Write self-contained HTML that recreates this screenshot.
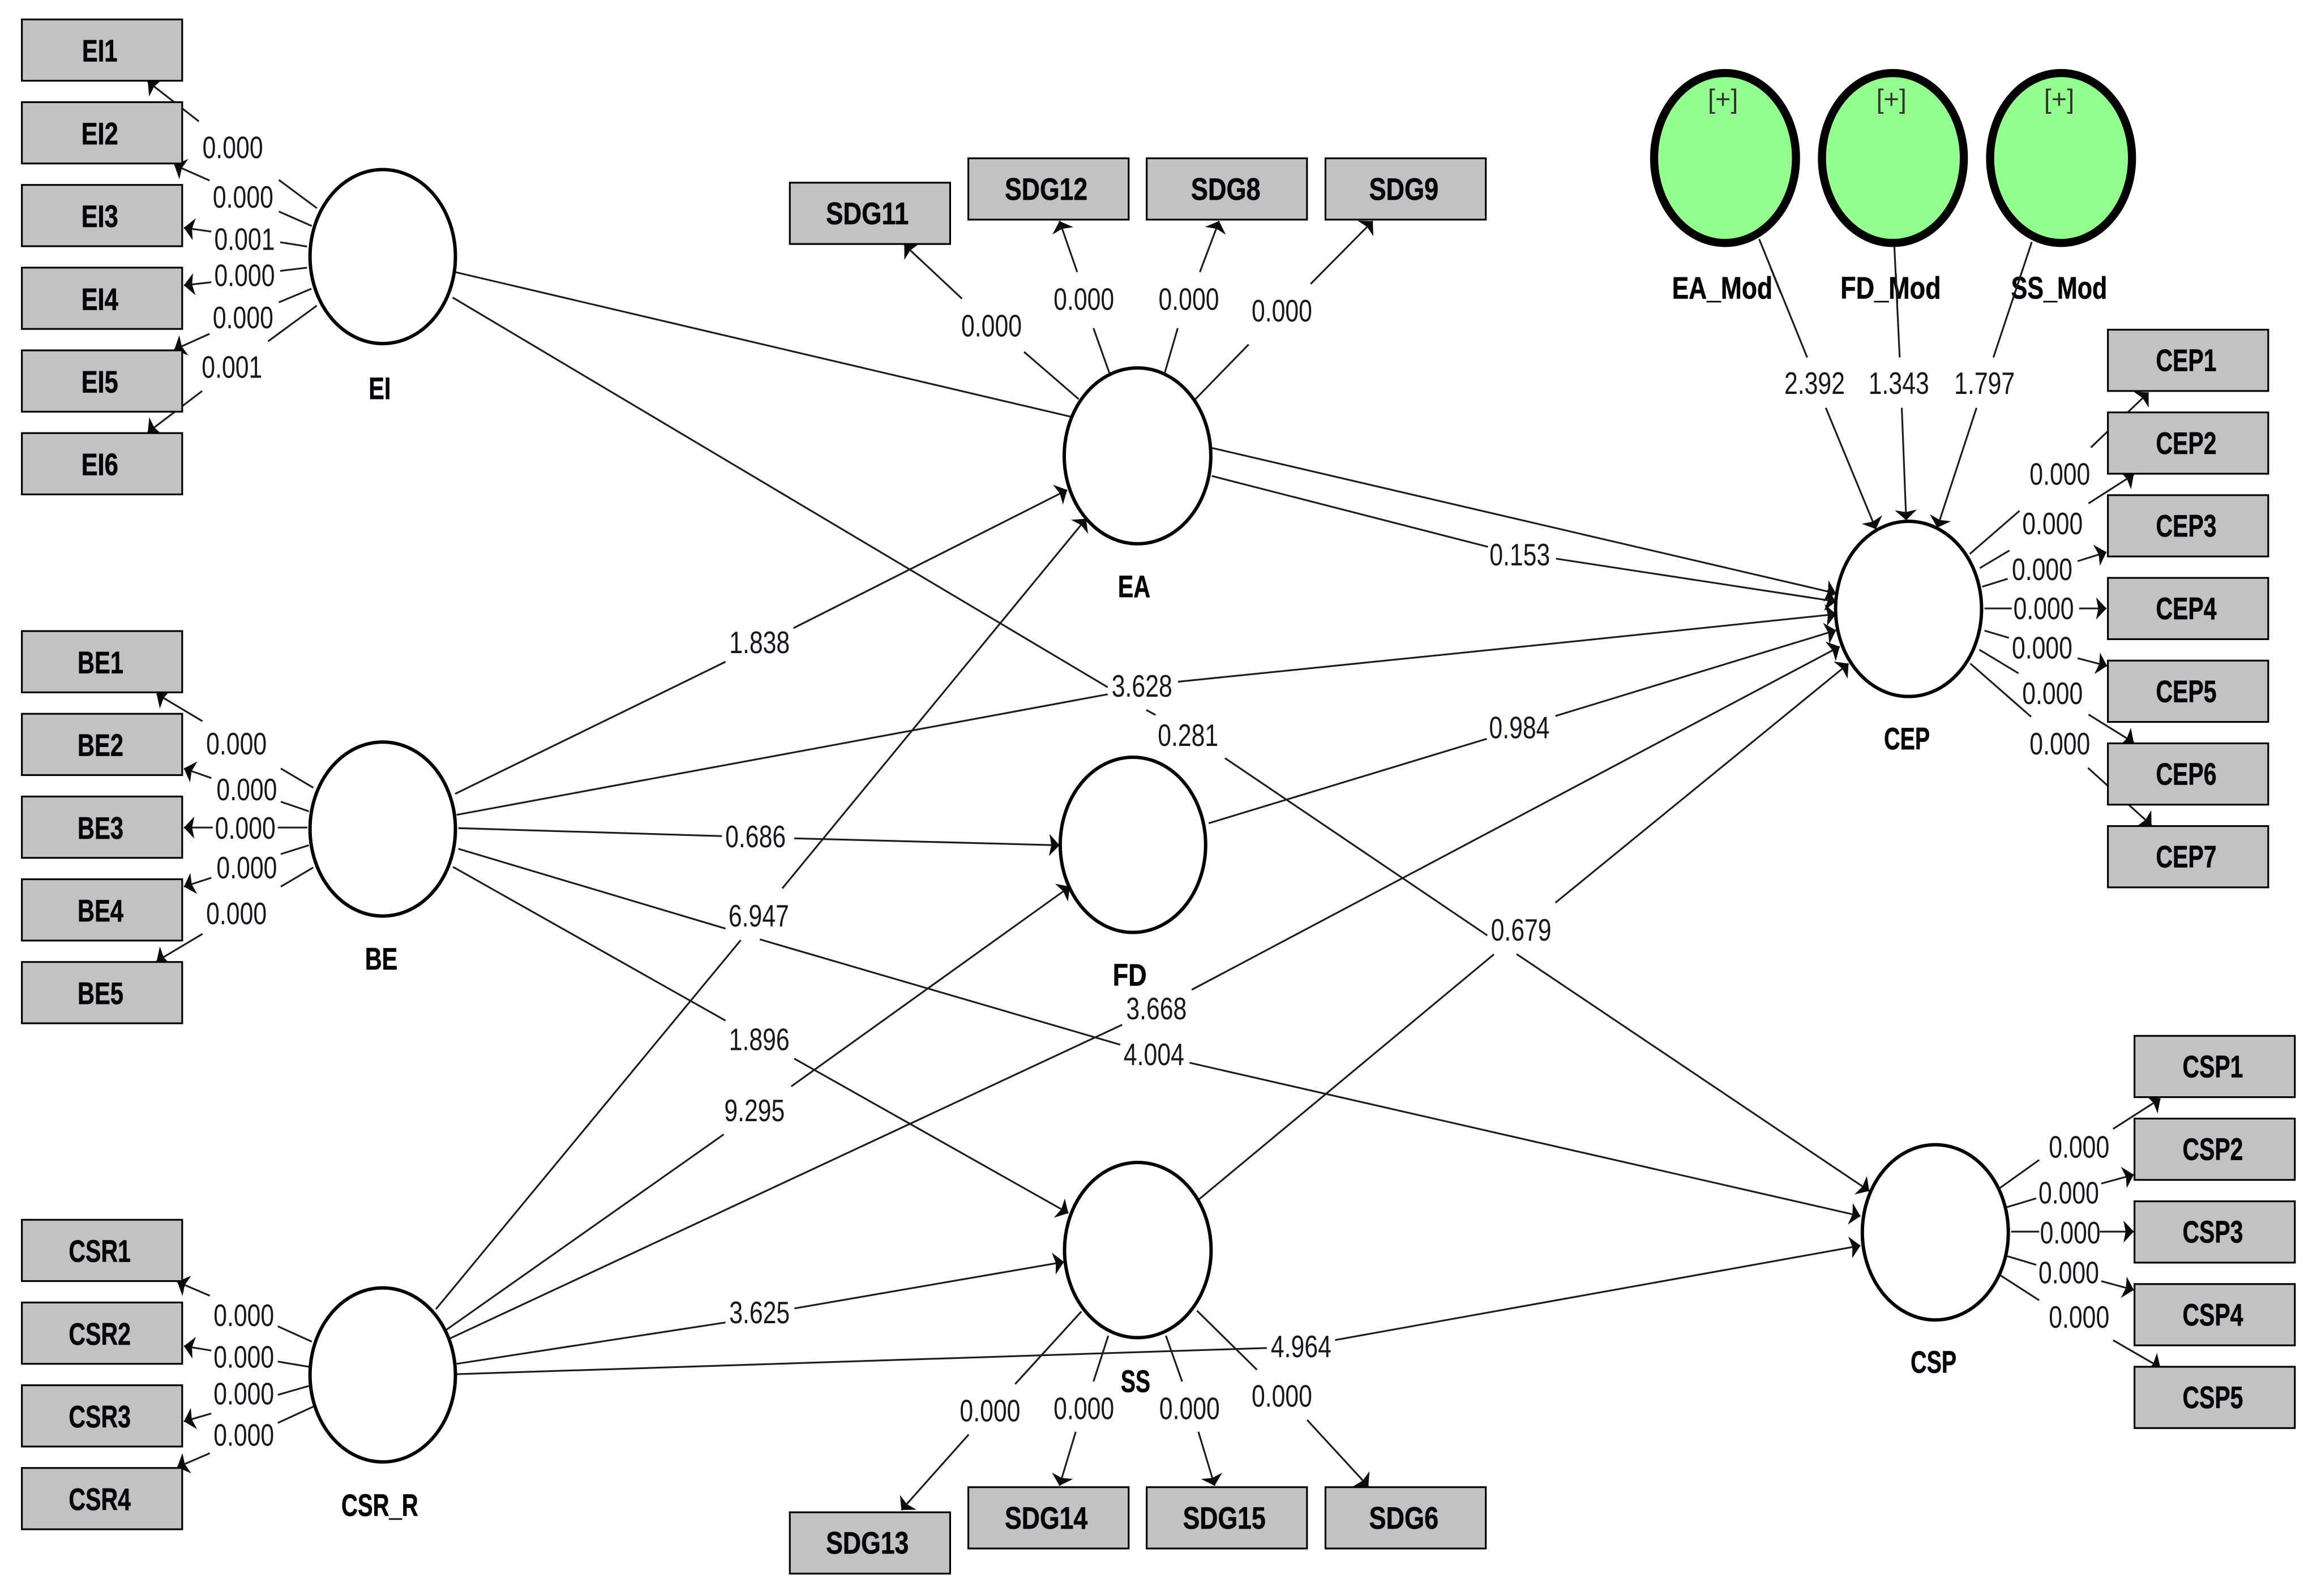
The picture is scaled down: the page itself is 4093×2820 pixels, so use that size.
<!DOCTYPE html>
<html><head><meta charset="utf-8"><style>
html,body{margin:0;padding:0;background:#fff}
svg{display:block}
.n{font:21px "Liberation Sans",sans-serif;fill:#16161e;text-anchor:middle}
.b{font:bold 21px "Liberation Sans",sans-serif;fill:#05050a;stroke:#05050a;stroke-width:.25;text-anchor:middle}
.p{font:18px "Liberation Sans",sans-serif;fill:#333;text-anchor:middle}
.l path{fill:none;stroke:#1c1c1c;stroke-width:1.2;marker-end:url(#a)}
.x path{fill:none;stroke:#1c1c1c;stroke-width:1.2}
.r rect{fill:#c2c2c2;stroke:#000;stroke-width:1.2}
.c ellipse{fill:#fff;stroke:#000;stroke-width:2.3}
.m ellipse{fill:#93ff8f;stroke:#000;stroke-width:5.5}
</style></head><body>
<svg xmlns="http://www.w3.org/2000/svg" width="4093" height="2820" viewBox="0 0 1568 1080">
<defs><marker id="a" markerUnits="userSpaceOnUse" markerWidth="10" markerHeight="18" viewBox="0 -9 10 18" refX="7" refY="0" orient="auto"><path d="M7 0L0 -7.5L1.5 0L0 7.5Z" fill="#0c0c0c"/></marker></defs>
<rect width="1568" height="1080" fill="#fff"/>

<g class="x"><path d="M308 184L725 282"/></g>
<g class="l">
<!-- EI indicators -->
<path d="M214.4 140.7L188.7 121.6M134.6 82L100 55"/>
<path d="M211 152.8L188.7 143M141.8 122L118 111.5"/>
<path d="M207.8 166.7L189.6 163.8M143 156.6L124.5 154"/>
<path d="M207.8 181L189.6 183.2M143 190.9L124.5 193"/>
<path d="M210.7 195.3L188.7 204.5M141.8 225.8L118 236.5"/>
<path d="M214.4 206.7L181.4 230.9M136.8 264.5L100 292.5"/>
<!-- BE indicators -->
<path d="M212 533L190 520M137 488L106 469.5"/>
<path d="M209 549L190 542.5M143 526.5L124.5 520"/>
<path d="M208 560L188 560M144 560L124.5 560"/>
<path d="M209 572L190 578M143 594L124.5 600"/>
<path d="M212 587L190 600M137 632L106 650.5"/>
<!-- CSR indicators -->
<path d="M211 908L188 897.6M142 876.9L120 867.5"/>
<path d="M209 925L188 921.5M143 914L124.5 911"/>
<path d="M209 938L188 944M143 956.6L124.5 962"/>
<path d="M212 952L188 963M142 983.5L120 993"/>
<!-- EA indicators -->
<path d="M730 270L693 238M651 202L612 165.5"/>
<path d="M751 253L740 222M729 184L717 149.5"/>
<path d="M788 253L797 222M812 184L825 149.5"/>
<path d="M809 270L845 233M887 192L929 149.5"/>
<!-- SS indicators -->
<path d="M731.8 887.6L687 936.7M655.6 970.8L610 1022"/>
<path d="M750 904L740 935M728 969L717 1005.5"/>
<path d="M789 904L800 935M811 969L822 1005.5"/>
<path d="M810 887L850.6 927M884.6 961L926 1006"/>
<!-- Moderators -->
<path d="M1190.5 161.7L1223 241.8M1235.6 275.9L1269.5 358"/>
<path d="M1282 167L1285.6 241.8M1287 275.9L1290 352"/>
<path d="M1375 163.6L1349 241.8M1337.6 275.9L1311 357"/>
<!-- CEP indicators -->
<path d="M1333 374.8L1366.7 345.6M1415 302.7L1454 265.5"/>
<path d="M1339.8 384.4L1359.8 372.5M1413.4 340.6L1444 321"/>
<path d="M1341.4 397L1358.7 391.6M1406 379.7L1425.5 373.6"/>
<path d="M1343 411.7L1361.4 411.7M1407 411.7L1425.5 411.7"/>
<path d="M1343 426.7L1359.5 431.6M1406 445.4L1426 450.6"/>
<path d="M1339.5 439.6L1366 455.6M1413.4 483.5L1444 502.5"/>
<path d="M1333.4 449L1374.5 485M1413 519.6L1456 558.5"/>
<!-- CSP indicators -->
<path d="M1352 805L1380 785M1430 764L1462 743.5"/>
<path d="M1358 817L1378 811M1422 801L1444 795"/>
<path d="M1361 833.5L1380 833.5M1421 833.5L1444 833.5"/>
<path d="M1358 850L1378 856M1422 867L1444 873"/>
<path d="M1352 862L1380 880M1430 907L1462 925.5"/>
<!-- Structural -->
<path d="M306.3 201.2L749.6 465M775.7 480.4L782 483.8M829 513L1006.5 633M1026.3 645.6L1265 806"/>
<path d="M308 537.2L491 447.8M537 425L722.2 331.5"/>
<path d="M309 551.4L749.6 469.8M797.2 461.3L1072.9 433.2L1242.5 415.5"/>
<path d="M310.2 560.4L488.6 565.8M537.5 567.3L717 572"/>
<path d="M310.2 574.4L491 628.4M514.2 635.7L758.1 707M805 719.2L1259 823"/>
<path d="M306.5 586.6L491 690.7M537.5 716.4L723 821"/>
<path d="M295 886L501.3 636.2M529.4 601.2L735 351"/>
<path d="M302 900L489.8 767.7M535.5 735.2L724 600"/>
<path d="M302 907L759.4 693.5M806.5 669.8L1245 437.5"/>
<path d="M309 923L491 895M537.6 885.5L720 854"/>
<path d="M309 930L857.3 912.3M903.5 906.9L1259 843"/>
<path d="M820 303L1242.5 401.5"/>
<path d="M820 322L1007 370M1053 378L1242.5 407"/>
<path d="M818 557.1L1006.2 499.9M1052.6 484.5L1242.5 426.5"/>
<path d="M811 812L1011 645.8M1052.6 610.9L1251 449"/>
</g>

<g class="c">
<ellipse cx="259" cy="173.5" rx="49.2" ry="58.9"/>
<ellipse cx="259" cy="561" rx="49.2" ry="58.9"/>
<ellipse cx="259" cy="930.5" rx="49.2" ry="58.9"/>
<ellipse cx="769.8" cy="308.4" rx="49.6" ry="59.5"/>
<ellipse cx="766.7" cy="571.7" rx="49.2" ry="59.3"/>
<ellipse cx="770" cy="846" rx="49.6" ry="59.3"/>
<ellipse cx="1291.6" cy="412" rx="49.4" ry="59.3"/>
<ellipse cx="1309.7" cy="834" rx="49.4" ry="59.3"/>
</g>
<g class="m">
<ellipse cx="1167.4" cy="106.8" rx="48" ry="57.5"/>
<ellipse cx="1281" cy="106.8" rx="48" ry="57.5"/>
<ellipse cx="1394.8" cy="106.8" rx="48" ry="57.5"/>
</g>

<g class="r">
<rect x="14.8" y="13" width="108.5" height="41.5"/>
<rect x="14.8" y="69" width="108.5" height="41.5"/>
<rect x="14.8" y="125" width="108.5" height="41.5"/>
<rect x="14.8" y="181" width="108.5" height="41.5"/>
<rect x="14.8" y="237" width="108.5" height="41.5"/>
<rect x="14.8" y="293" width="108.5" height="41.5"/>
<rect x="14.8" y="427" width="108.5" height="41.5"/>
<rect x="14.8" y="483" width="108.5" height="41.5"/>
<rect x="14.8" y="539" width="108.5" height="41.5"/>
<rect x="14.8" y="595" width="108.5" height="41.5"/>
<rect x="14.8" y="651" width="108.5" height="41.5"/>
<rect x="14.8" y="825.5" width="108.5" height="41.5"/>
<rect x="14.8" y="881.5" width="108.5" height="41.5"/>
<rect x="14.8" y="937.5" width="108.5" height="41.5"/>
<rect x="14.8" y="993.5" width="108.5" height="41.5"/>
<rect x="534.5" y="123.5" width="108.5" height="41.5"/>
<rect x="655.3" y="107" width="108.5" height="41.5"/>
<rect x="776" y="107" width="108.5" height="41.5"/>
<rect x="897" y="107" width="108.5" height="41.5"/>
<rect x="534.5" y="1023.5" width="108.5" height="41.5"/>
<rect x="655.3" y="1006.5" width="108.5" height="41.5"/>
<rect x="776" y="1006.5" width="108.5" height="41.5"/>
<rect x="897" y="1006.5" width="108.5" height="41.5"/>
<rect x="1426.5" y="223" width="108.5" height="41.5"/>
<rect x="1426.5" y="279" width="108.5" height="41.5"/>
<rect x="1426.5" y="335" width="108.5" height="41.5"/>
<rect x="1426.5" y="391" width="108.5" height="41.5"/>
<rect x="1426.5" y="447" width="108.5" height="41.5"/>
<rect x="1426.5" y="503" width="108.5" height="41.5"/>
<rect x="1426.5" y="559" width="108.5" height="41.5"/>
<rect x="1444.5" y="701" width="108.5" height="41.5"/>
<rect x="1444.5" y="757" width="108.5" height="41.5"/>
<rect x="1444.5" y="813" width="108.5" height="41.5"/>
<rect x="1444.5" y="869" width="108.5" height="41.5"/>
<rect x="1444.5" y="925" width="108.5" height="41.5"/>
</g>

<!-- Box labels -->
<g>
<text class="b" x="67.5" y="41.5" textLength="24" lengthAdjust="spacingAndGlyphs">EI1</text>
<text class="b" x="67.5" y="97.5" textLength="25" lengthAdjust="spacingAndGlyphs">EI2</text>
<text class="b" x="67.5" y="153.5" textLength="25" lengthAdjust="spacingAndGlyphs">EI3</text>
<text class="b" x="67.5" y="209.5" textLength="25" lengthAdjust="spacingAndGlyphs">EI4</text>
<text class="b" x="67.5" y="265.5" textLength="25" lengthAdjust="spacingAndGlyphs">EI5</text>
<text class="b" x="67.5" y="321.5" textLength="25" lengthAdjust="spacingAndGlyphs">EI6</text>
<text class="b" x="68" y="455.5" textLength="31" lengthAdjust="spacingAndGlyphs">BE1</text>
<text class="b" x="68" y="511.5" textLength="31" lengthAdjust="spacingAndGlyphs">BE2</text>
<text class="b" x="68" y="567.5" textLength="31" lengthAdjust="spacingAndGlyphs">BE3</text>
<text class="b" x="68" y="623.5" textLength="31" lengthAdjust="spacingAndGlyphs">BE4</text>
<text class="b" x="68" y="679.5" textLength="31" lengthAdjust="spacingAndGlyphs">BE5</text>
<text class="b" x="67.5" y="854" textLength="42" lengthAdjust="spacingAndGlyphs">CSR1</text>
<text class="b" x="67.5" y="910" textLength="42" lengthAdjust="spacingAndGlyphs">CSR2</text>
<text class="b" x="67.5" y="966" textLength="42" lengthAdjust="spacingAndGlyphs">CSR3</text>
<text class="b" x="67.5" y="1022" textLength="42" lengthAdjust="spacingAndGlyphs">CSR4</text>
<text class="b" x="587" y="151.5" textLength="56" lengthAdjust="spacingAndGlyphs">SDG11</text>
<text class="b" x="708" y="135" textLength="56" lengthAdjust="spacingAndGlyphs">SDG12</text>
<text class="b" x="829.5" y="135" textLength="47" lengthAdjust="spacingAndGlyphs">SDG8</text>
<text class="b" x="950" y="135" textLength="47" lengthAdjust="spacingAndGlyphs">SDG9</text>
<text class="b" x="587" y="1051.5" textLength="56" lengthAdjust="spacingAndGlyphs">SDG13</text>
<text class="b" x="708" y="1034.5" textLength="56" lengthAdjust="spacingAndGlyphs">SDG14</text>
<text class="b" x="828.5" y="1034.5" textLength="56" lengthAdjust="spacingAndGlyphs">SDG15</text>
<text class="b" x="950" y="1034.5" textLength="47" lengthAdjust="spacingAndGlyphs">SDG6</text>
<text class="b" x="1479.5" y="251" textLength="41" lengthAdjust="spacingAndGlyphs">CEP1</text>
<text class="b" x="1479.5" y="307" textLength="41" lengthAdjust="spacingAndGlyphs">CEP2</text>
<text class="b" x="1479.5" y="363" textLength="41" lengthAdjust="spacingAndGlyphs">CEP3</text>
<text class="b" x="1479.5" y="419" textLength="41" lengthAdjust="spacingAndGlyphs">CEP4</text>
<text class="b" x="1479.5" y="475" textLength="41" lengthAdjust="spacingAndGlyphs">CEP5</text>
<text class="b" x="1479.5" y="531" textLength="41" lengthAdjust="spacingAndGlyphs">CEP6</text>
<text class="b" x="1479.5" y="587" textLength="41" lengthAdjust="spacingAndGlyphs">CEP7</text>
<text class="b" x="1497.5" y="729" textLength="41" lengthAdjust="spacingAndGlyphs">CSP1</text>
<text class="b" x="1497.5" y="785" textLength="41" lengthAdjust="spacingAndGlyphs">CSP2</text>
<text class="b" x="1497.5" y="841" textLength="41" lengthAdjust="spacingAndGlyphs">CSP3</text>
<text class="b" x="1497.5" y="897" textLength="41" lengthAdjust="spacingAndGlyphs">CSP4</text>
<text class="b" x="1497.5" y="953" textLength="41" lengthAdjust="spacingAndGlyphs">CSP5</text>
</g>

<!-- Node labels -->
<g>
<text class="b" x="257" y="270" textLength="15" lengthAdjust="spacingAndGlyphs">EI</text>
<text class="b" x="258" y="656" textLength="22" lengthAdjust="spacingAndGlyphs">BE</text>
<text class="b" x="257" y="1026" textLength="52" lengthAdjust="spacingAndGlyphs">CSR_R</text>
<text class="b" x="767.5" y="404" textLength="22" lengthAdjust="spacingAndGlyphs">EA</text>
<text class="b" x="764.5" y="667" textLength="23" lengthAdjust="spacingAndGlyphs">FD</text>
<text class="b" x="768.5" y="942" textLength="20" lengthAdjust="spacingAndGlyphs">SS</text>
<text class="b" x="1290.5" y="507" textLength="31" lengthAdjust="spacingAndGlyphs">CEP</text>
<text class="b" x="1308.5" y="929" textLength="31" lengthAdjust="spacingAndGlyphs">CSP</text>
<text class="b" x="1165.5" y="202" textLength="68" lengthAdjust="spacingAndGlyphs">EA_Mod</text>
<text class="b" x="1279.5" y="202" textLength="68" lengthAdjust="spacingAndGlyphs">FD_Mod</text>
<text class="b" x="1393.5" y="202" textLength="65" lengthAdjust="spacingAndGlyphs">SS_Mod</text>
<text class="p" x="1166" y="73">[+]</text>
<text class="p" x="1280" y="73">[+]</text>
<text class="p" x="1393.5" y="73">[+]</text>
</g>

<g class="x">
<path d="M1198 180.5L1205 198"/><path d="M1283 185L1284 205"/><path d="M1369 181.5L1362 203"/>
</g>

<!-- Edge values -->
<g>
<text class="n" x="157.5" y="107" textLength="41" lengthAdjust="spacingAndGlyphs">0.000</text>
<text class="n" x="164.5" y="140.5" textLength="41" lengthAdjust="spacingAndGlyphs">0.000</text>
<text class="n" x="165.5" y="169" textLength="41" lengthAdjust="spacingAndGlyphs">0.001</text>
<text class="n" x="165.5" y="193.5" textLength="41" lengthAdjust="spacingAndGlyphs">0.000</text>
<text class="n" x="164.5" y="222" textLength="41" lengthAdjust="spacingAndGlyphs">0.000</text>
<text class="n" x="157" y="255.5" textLength="41" lengthAdjust="spacingAndGlyphs">0.001</text>
<text class="n" x="160" y="510.5" textLength="41" lengthAdjust="spacingAndGlyphs">0.000</text>
<text class="n" x="167" y="541.5" textLength="41" lengthAdjust="spacingAndGlyphs">0.000</text>
<text class="n" x="166" y="567.5" textLength="41" lengthAdjust="spacingAndGlyphs">0.000</text>
<text class="n" x="167" y="594.5" textLength="41" lengthAdjust="spacingAndGlyphs">0.000</text>
<text class="n" x="160" y="625.5" textLength="41" lengthAdjust="spacingAndGlyphs">0.000</text>
<text class="n" x="165" y="897.5" textLength="41" lengthAdjust="spacingAndGlyphs">0.000</text>
<text class="n" x="165" y="925.5" textLength="41" lengthAdjust="spacingAndGlyphs">0.000</text>
<text class="n" x="165" y="950.5" textLength="41" lengthAdjust="spacingAndGlyphs">0.000</text>
<text class="n" x="165" y="978.5" textLength="41" lengthAdjust="spacingAndGlyphs">0.000</text>
<text class="n" x="671" y="227.5" textLength="41" lengthAdjust="spacingAndGlyphs">0.000</text>
<text class="n" x="733.5" y="209.5" textLength="41" lengthAdjust="spacingAndGlyphs">0.000</text>
<text class="n" x="804.5" y="209.5" textLength="41" lengthAdjust="spacingAndGlyphs">0.000</text>
<text class="n" x="867.5" y="217.5" textLength="41" lengthAdjust="spacingAndGlyphs">0.000</text>
<text class="n" x="670" y="962" textLength="41" lengthAdjust="spacingAndGlyphs">0.000</text>
<text class="n" x="733.5" y="960.5" textLength="41" lengthAdjust="spacingAndGlyphs">0.000</text>
<text class="n" x="805" y="960.5" textLength="41" lengthAdjust="spacingAndGlyphs">0.000</text>
<text class="n" x="867.5" y="952" textLength="41" lengthAdjust="spacingAndGlyphs">0.000</text>
<text class="n" x="1228" y="266.5" textLength="41" lengthAdjust="spacingAndGlyphs">2.392</text>
<text class="n" x="1285" y="266.5" textLength="41" lengthAdjust="spacingAndGlyphs">1.343</text>
<text class="n" x="1343" y="266.5" textLength="41" lengthAdjust="spacingAndGlyphs">1.797</text>
<text class="n" x="1394" y="328" textLength="41" lengthAdjust="spacingAndGlyphs">0.000</text>
<text class="n" x="1389" y="361.5" textLength="41" lengthAdjust="spacingAndGlyphs">0.000</text>
<text class="n" x="1382" y="392.5" textLength="41" lengthAdjust="spacingAndGlyphs">0.000</text>
<text class="n" x="1383" y="419" textLength="41" lengthAdjust="spacingAndGlyphs">0.000</text>
<text class="n" x="1382" y="445.5" textLength="41" lengthAdjust="spacingAndGlyphs">0.000</text>
<text class="n" x="1389" y="476.5" textLength="41" lengthAdjust="spacingAndGlyphs">0.000</text>
<text class="n" x="1394" y="510.5" textLength="41" lengthAdjust="spacingAndGlyphs">0.000</text>
<text class="n" x="1407" y="783.5" textLength="41" lengthAdjust="spacingAndGlyphs">0.000</text>
<text class="n" x="1400" y="814.5" textLength="41" lengthAdjust="spacingAndGlyphs">0.000</text>
<text class="n" x="1401" y="841.5" textLength="41" lengthAdjust="spacingAndGlyphs">0.000</text>
<text class="n" x="1400" y="868.5" textLength="41" lengthAdjust="spacingAndGlyphs">0.000</text>
<text class="n" x="1407" y="898.5" textLength="41" lengthAdjust="spacingAndGlyphs">0.000</text>
<text class="n" x="514" y="442" textLength="41" lengthAdjust="spacingAndGlyphs">1.838</text>
<text class="n" x="511.3" y="573.3" textLength="41" lengthAdjust="spacingAndGlyphs">0.686</text>
<text class="n" x="513.5" y="627" textLength="41" lengthAdjust="spacingAndGlyphs">6.947</text>
<text class="n" x="513.8" y="710.7" textLength="41" lengthAdjust="spacingAndGlyphs">1.896</text>
<text class="n" x="510.6" y="758.8" textLength="41" lengthAdjust="spacingAndGlyphs">9.295</text>
<text class="n" x="514" y="895.5" textLength="41" lengthAdjust="spacingAndGlyphs">3.625</text>
<text class="n" x="880.5" y="918.5" textLength="41" lengthAdjust="spacingAndGlyphs">4.964</text>
<text class="n" x="772.8" y="471.5" textLength="41" lengthAdjust="spacingAndGlyphs">3.628</text>
<text class="n" x="804" y="504.8" textLength="41" lengthAdjust="spacingAndGlyphs">0.281</text>
<text class="n" x="1028.5" y="382.5" textLength="41" lengthAdjust="spacingAndGlyphs">0.153</text>
<text class="n" x="1028.2" y="499.6" textLength="41" lengthAdjust="spacingAndGlyphs">0.984</text>
<text class="n" x="1029.4" y="636.5" textLength="41" lengthAdjust="spacingAndGlyphs">0.679</text>
<text class="n" x="782.6" y="689.8" textLength="41" lengthAdjust="spacingAndGlyphs">3.668</text>
<text class="n" x="780.9" y="720.8" textLength="41" lengthAdjust="spacingAndGlyphs">4.004</text>
</g>
</svg>
</body></html>
